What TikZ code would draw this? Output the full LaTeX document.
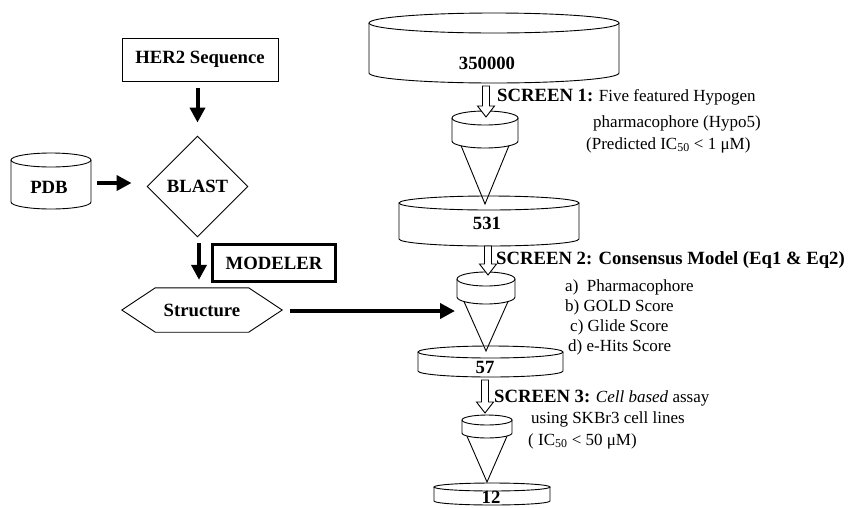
\documentclass[tikz,border=0pt]{standalone}
\usepackage{fontspec}
\setmainfont{Liberation Serif}
\usetikzlibrary{arrows.meta,shapes.geometric,calc}

\newcommand\bfont{\fontsize{18.7}{22}\selectfont\bfseries}
\newcommand\rfont{\fontsize{17}{20}\selectfont\mdseries}

\tikzset{
  outline/.style={draw=black, line width=0.9pt},
  boxnode/.style={outline, rectangle, inner sep=0pt, font=\bfont},
  heavyarrow/.style={line width=4pt, -{Triangle[width=15pt,length=15pt]}},
  bold label/.style={inner sep=0pt, font=\bfont},
  textline/.style={inner sep=0pt, anchor=base west, font=\rfont},
  hollowarrow/.style={outline, fill=white, line join=miter},
}

% drum: name, centre x, top ellipse y, bottom ellipse y, half width, y radius
\newcommand\drum[6]{%
  \draw[outline] (#2-#5,#3) -- (#2-#5,#4)
    arc[start angle=180, end angle=0, x radius=#5, y radius=#6] -- (#2+#5,#3);
  \draw[outline] (#2,#3) ellipse[x radius=#5, y radius=#6];
  \coordinate (#1-top) at (#2,#3-#6);
  \coordinate (#1-bot) at (#2,#4+#6);
  \coordinate (#1-e) at (#2+#5,{(#3+#4)/2});
  \coordinate (#1-c) at (#2,#3);
}
% funnel: drum on top of a cone; extra args: half spread at the rim, tip y
\newcommand\funnel[8]{%
  \drum{#1}{#2}{#3}{#4}{#5}{#6}
  \draw[outline, line join=miter] (#2-#7,#4+#6*0.65) -- (#2,#8) -- (#2+#7,#4+#6*0.65);
  \coordinate (#1-tip) at (#2,#8);
}
% open block arrow from a start point down to a tip point
\newcommand\blockarrow[2]{%
  \draw[hollowarrow] ($(#1)+(-3.5,0)$) -- ($(#2)+(-3.5,-11)$) -- ($(#2)+(-8.5,-11)$)
    -- (#2) -- ($(#2)+(8.5,-11)$) -- ($(#2)+(3.5,-11)$) -- ($(#1)+(3.5,0)$) -- cycle;
}

\begin{document}
\begin{tikzpicture}[x=1pt, y=-1pt]
\useasboundingbox (0,0) rectangle (851,507);

% ---------- homology modelling branch ----------
\node[boxnode, minimum width=156pt, minimum height=43pt] (her) at (200,59.5) {HER2 Sequence};
\node[outline, diamond, aspect=1, inner sep=0pt, minimum width=101pt, minimum height=101pt, font=\bfont]
  (blast) at (197.5,186.5) {BLAST};

\drum{pdb}{51}{160}{202}{40}{7}
\node[bold label] (pdbl) at (49,187) {PDB};

\node[draw=black, line width=3pt, rectangle, inner sep=0pt, minimum width=123pt, minimum height=37pt, font=\bfont]
  (modeler) at (274,263) {MODELER};

\node[bold label, minimum width=93pt, minimum height=44pt] (struct) at (202,310) {Structure};
\draw[outline] (struct.north west) -- (struct.north east) -- ($(struct.east)+(33.5,0)$)
  -- (struct.south east) -- (struct.south west) -- ($(struct.west)+(-33.5,0)$) -- cycle;

\draw[heavyarrow] ($(her.south -| blast.north)+(0,7)$) -- ($(blast.north)+(0,-13)$);
\draw[heavyarrow] ($(pdb-e)+(6,2)$) -- ($(blast.west)+(-15,-3.5)$);
\draw[heavyarrow] ($(blast.south)+(1.5,6)$) -- ($(struct.north)+(-3,-8)$);

% ---------- virtual screening cascade ----------
\drum{d350}{494}{23}{73}{125}{10}
\node[bold label] (l350) at (487,63) {350000};

\funnel{c1}{485}{118}{141}{33}{7}{24}{204}
\drum{d531}{489}{203}{239}{90}{7}
\node[bold label] (l531) at (487,223) {531};

\funnel{c2}{486}{279}{297}{29}{7}{22}{351}
\drum{d57}{490.5}{352}{371}{72.5}{6}
\node[bold label] (l57) at (485,367) {57};

\funnel{c3}{487}{420}{433}{25}{5}{20}{482}
\drum{d12}{492}{487}{501}{58}{4}
\node[bold label] (l12) at (491,497) {12};

\coordinate (a1s) at ($(d350-bot)+(-8,3)$);
\coordinate (a1t) at (a1s |- {$(c1-top)+(0,6)$});
\blockarrow{a1s}{a1t}
\coordinate (a2s) at ($(d531-bot)+(-1,0)$);
\coordinate (a2t) at (a2s |- {$(c2-top)+(0,3)$});
\blockarrow{a2s}{a2t}
\coordinate (a3s) at ($(d57-bot)+(-5.5,3)$);
\coordinate (a3t) at (a3s |- {$(c3-top)+(0,-2)$});
\blockarrow{a3s}{a3t}

\draw[heavyarrow] ($(struct.east)+(41.5,1)$) -- ($(c2-c)+(-31,32)$);

% ---------- screen descriptions ----------
\node[textline] (s1a) at (497,101) {\bfont SCREEN 1:\rfont{} Five featured Hypogen};
\node[textline] (s1b) at (593,127) {pharmacophore (Hypo5)};
\node[textline] (s1c) at (586,149) {(Predicted IC\textsubscript{50} < 1 μM)};

\node[textline, font=\bfont] (s2a) at (496,264) {SCREEN 2: Consensus Model (Eq1 \& Eq2)};
\node[textline] (s2b) at (565,291) {a)\ \ Pharmacophore};
\node[textline] (s2c) at (565,311) {b) GOLD Score};
\node[textline] (s2d) at (570,331) {c) Glide Score};
\node[textline] (s2e) at (568,351) {d) e-Hits Score};

\node[textline] (s3a) at (494,402) {\bfont SCREEN 3:\rfont{} \textit{Cell based} assay};
\node[textline] (s3b) at (531,423) {using SKBr3 cell lines};
\node[textline] (s3c) at (528,445) {( IC\textsubscript{50} < 50 μM)};
\end{tikzpicture}
\end{document}
